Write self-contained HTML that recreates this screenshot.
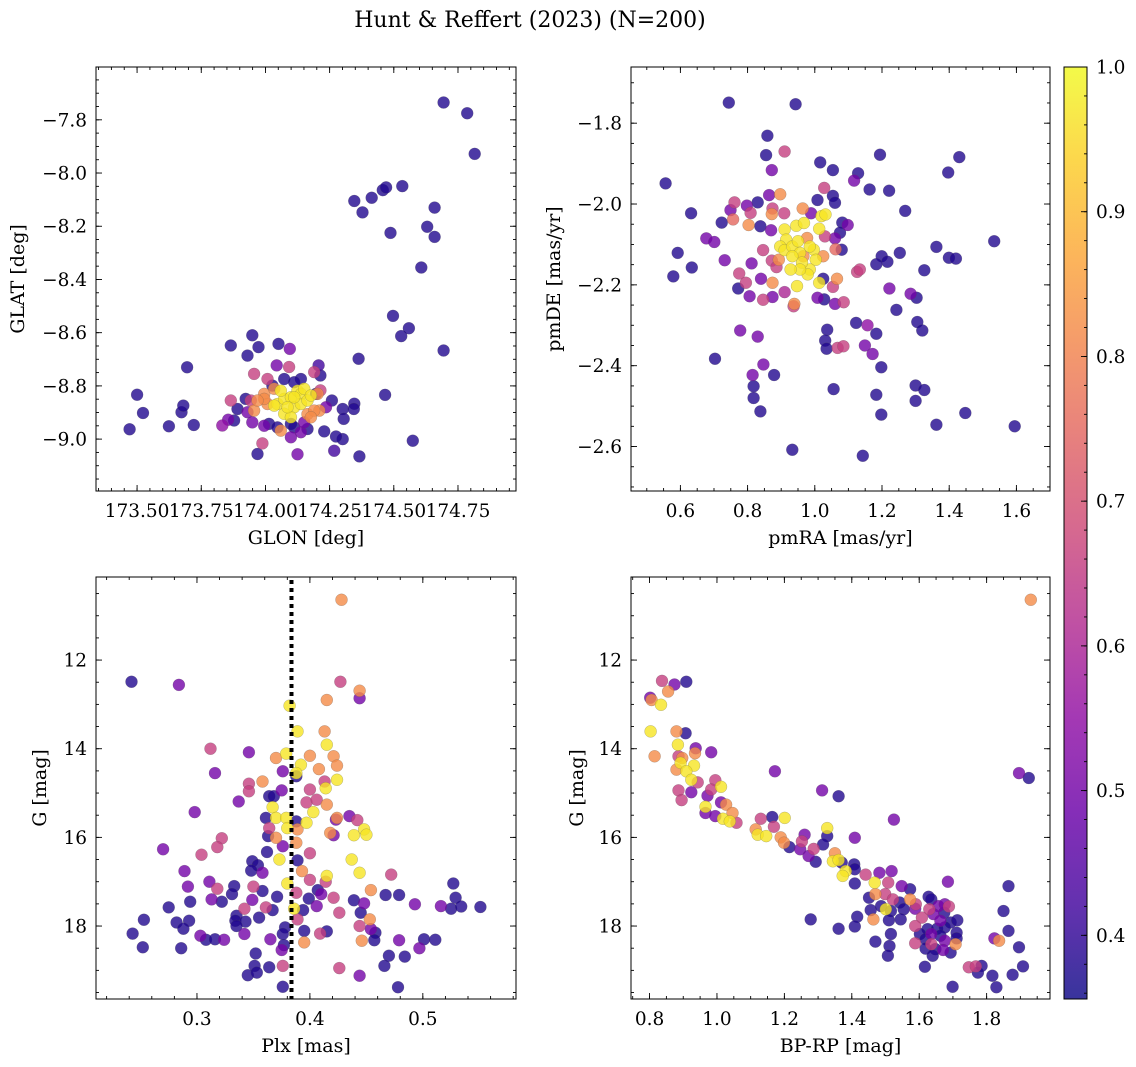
<!DOCTYPE html>
<html><head><meta charset="utf-8"><style>
html,body{margin:0;padding:0;background:#fff;}
svg{display:block;font-family:"DejaVu Serif","Liberation Serif",serif;}
</style></head><body>
<svg id="fig" width="1136" height="1067" viewBox="0 0 1136 1067" xmlns="http://www.w3.org/2000/svg">
<defs><linearGradient id="cbgrad" x1="0" y1="1" x2="0" y2="0"></linearGradient></defs>
<text x="530" y="27" text-anchor="middle" font-size="22">Hunt &amp; Reffert (2023) (N=200)</text>
</svg>
<script>
const D=0.38,P=0.5,K=0.66,O=0.82,Y=0.97;
// Panel 1: GLON / GLAT
const tlGlon=[174.694,174.786,174.815,174.346,174.378,174.414,174.457,174.470,174.533,174.487,174.659,174.630,174.659,174.607,174.497,174.529,174.559,174.694,174.363,174.466,174.574,174.366,
173.471,173.5,173.523,173.624,173.673,173.680,173.695,173.721,173.865,173.949,173.930,173.973,174.051,174.095,173.969,174.125,174.268,174.301,174.275,174.229,174.259,174.301,174.305,174.346,174.344,174.207,174.214,174.236,174.099,174.060,173.988,173.832,173.855,173.878,173.865,173.891,173.956,174.008,174.044,174.092,174.190,174.214,174.210,173.995,173.956,173.943,173.923,173.930,173.949,173.995,174.014,174.099,174.138,174.151,174.164,
174.047,174.073,174.099,174.125,174.138,174.112,174.073,174.099,174.138,174.164,174.151,174.060,174.034,174.086,174.112,174.177,
174.008,173.995,174.034,174.190,174.177,173.969,174.203,
174.073,174.138,174.112,174.027,174.047,174.112,174.164,174.197];
const tlGlat=[-7.735,-7.775,-7.928,-8.105,-8.148,-8.093,-8.064,-8.054,-8.049,-8.225,-8.130,-8.202,-8.240,-8.355,-8.537,-8.613,-8.583,-8.667,-8.698,-8.834,-9.006,-9.065,
-8.963,-8.833,-8.902,-8.952,-8.899,-8.874,-8.730,-8.947,-8.648,-8.610,-8.686,-8.654,-8.642,-8.661,-9.056,-9.057,-9.044,-9.0,-8.99,-8.971,-8.855,-8.887,-8.924,-8.867,-8.887,-8.723,-8.761,-8.880,-8.993,-8.968,-9.016,-8.949,-8.927,-8.93,-8.855,-8.887,-8.755,-8.774,-8.723,-8.729,-8.748,-8.817,-8.893,-8.830,-8.893,-8.855,-8.849,-8.899,-8.937,-8.950,-8.943,-8.943,-8.974,-8.937,-8.906,
-8.868,-8.849,-8.843,-8.818,-8.830,-8.880,-8.905,-8.918,-8.868,-8.855,-8.811,-8.818,-8.874,-8.880,-8.843,-8.836,
-8.868,-8.849,-8.811,-8.893,-8.918,-8.855,-8.830,
-8.774,-8.774,-8.786,-8.799,-8.956,-8.956,-8.962,-8.830];
const tlProb=[D,D,D,D,D,D,D,D,D,D,D,D,D,D,D,D,D,D,D,D,D,D,
D,D,D,D,D,D,D,D,D,D,D,D,D,P,D,P,0.42,D,D,D,D,D,D,D,D,0.42,D,P,P,O,K,0.55,P,D,K,D,K,K,P,K,K,K,O,O,O,K,D,P,P,P,D,D,P,P,O,
Y,Y,Y,Y,Y,Y,Y,Y,Y,Y,Y,Y,Y,Y,Y,Y,
O,O,O,O,O,O,O,
D,D,D,D,D,D,D,D];
// Panel 2: pmRA / pmDE
const trPmra=[0.744,0.943,0.859,0.855,0.910,0.872,1.016,1.054,1.129,1.117,1.194,1.397,1.430,1.163,1.221,1.028,1.008,1.054,1.060,1.269,0.556,0.632,0.592,0.634,0.579,0.723,0.677,0.701,0.732,0.772,0.703,0.778,0.830,0.775,0.795,0.806,0.812,0.840,0.846,0.874,0.847,0.815,0.818,0.818,0.838,0.879,0.933,1.143,1.056,1.183,1.198,1.198,1.183,1.172,1.149,1.157,1.123,1.037,1.031,1.035,1.068,1.085,1.243,1.285,1.303,1.305,1.320,1.222,1.300,1.326,1.300,1.362,1.448,1.595,1.534,1.362,1.399,1.420,1.326,1.253,1.199,1.216,1.183,1.126,1.134,1.082,1.098,1.080,1.075,1.060,1.062,1.066,1.054,1.086,1.060,1.028,1.008,1.025,0.989,0.830,0.798,0.864,0.838,0.870,0.761,0.749,0.757,0.803,0.809,0.874,0.872,0.897,0.909,0.964,0.846,0.872,0.886,0.874,0.937,0.939,0.910,
0.910,0.945,0.915,0.897,0.910,0.933,0.956,0.950,0.968,0.977,0.997,1.003,0.985,0.962,0.979,0.956,0.928,0.893,0.985,1.020,1.032,1.013,1.013,0.947,0.966,1.025,1.030,0.933];
const trPmde=[-1.749,-1.753,-1.831,-1.879,-1.870,-1.916,-1.897,-1.916,-1.924,-1.942,-1.878,-1.922,-1.884,-1.964,-1.967,-1.960,-1.990,-1.980,-1.997,-2.017,-1.949,-2.023,-2.121,-2.157,-2.179,-2.046,-2.085,-2.094,-2.139,-2.209,-2.383,-2.313,-2.328,-2.172,-2.195,-2.228,-2.147,-2.185,-2.237,-2.230,-2.397,-2.423,-2.451,-2.480,-2.513,-2.423,-2.608,-2.623,-2.458,-2.472,-2.521,-2.404,-2.321,-2.371,-2.350,-2.300,-2.294,-2.311,-2.338,-2.358,-2.356,-2.352,-2.262,-2.222,-2.232,-2.292,-2.313,-2.209,-2.449,-2.460,-2.487,-2.546,-2.517,-2.550,-2.092,-2.106,-2.133,-2.135,-2.164,-2.121,-2.129,-2.143,-2.149,-2.168,-2.162,-2.046,-2.052,-2.113,-2.071,-2.085,-2.112,-2.185,-2.205,-2.243,-2.247,-2.236,-2.232,-2.185,-2.023,-1.996,-2.004,-1.978,-2.055,-2.065,-1.996,-2.015,-2.038,-2.052,-2.022,-2.011,-2.025,-1.976,-2.023,-2.011,-2.114,-2.140,-2.156,-2.195,-2.253,-2.247,-2.218,
-2.063,-2.054,-2.088,-2.105,-2.114,-2.105,-2.121,-2.092,-2.047,-2.084,-2.113,-2.138,-2.162,-2.145,-2.174,-2.162,-2.162,-2.138,-2.105,-2.030,-2.026,-2.061,-2.195,-2.203,-2.129,-2.129,-2.080,-2.129];
const trProb=[D,D,D,D,K,P,D,D,D,P,D,D,D,D,D,K,D,D,D,D,D,D,D,D,D,D,P,P,P,D,D,P,P,K,K,P,P,P,K,P,P,P,D,D,D,D,D,D,D,D,D,D,D,P,P,0.55,D,D,D,D,K,K,D,P,D,D,D,P,D,D,D,D,D,D,D,D,D,D,D,D,D,D,D,K,K,D,P,D,D,P,0.75,O,K,K,P,D,P,D,P,D,P,P,D,P,K,P,0.75,O,K,K,O,O,K,O,K,K,K,O,K,O,0.6,
Y,Y,Y,Y,Y,Y,Y,Y,Y,O,Y,Y,Y,Y,Y,Y,Y,O,Y,Y,Y,Y,Y,Y,O,O,K,Y];
// Panel 3: Plx / G
const blPlx=[0.428,0.242,0.284,0.427,0.444,0.444,0.415,0.382,0.389,0.413,0.312,0.346,0.370,0.379,0.400,0.415,0.421,0.392,0.424,0.408,0.316,0.376,0.388,0.388,0.358,0.346,0.424,0.413,0.414,0.346,0.400,0.375,0.337,0.364,0.368,0.397,0.406,0.415,0.298,0.367,0.403,0.361,0.370,0.379,0.388,0.435,0.442,0.424,0.423,0.397,0.380,0.389,0.364,0.363,0.370,0.376,0.418,0.421,0.439,0.448,0.450,0.322,0.318,0.270,0.304,0.362,0.388,0.400,0.373,0.389,0.349,0.354,0.348,0.358,0.437,0.444,0.393,0.415,0.472,0.289,0.292,0.311,0.318,0.380,0.400,0.414,0.333,0.331,0.350,0.358,0.388,0.407,0.410,0.454,0.467,0.479,0.313,0.322,0.294,0.275,0.371,0.349,0.399,0.421,0.439,0.448,0.493,0.516,0.527,0.529,0.525,0.534,0.551,0.342,0.361,0.367,0.386,0.394,0.406,0.426,0.445,0.335,0.334,0.343,0.355,0.389,0.453,0.253,0.282,0.293,0.335,0.288,0.243,0.303,0.308,0.316,0.324,0.342,0.378,0.376,0.395,0.415,0.409,0.444,0.454,0.458,0.457,0.446,0.479,0.501,0.511,0.497,0.252,0.286,0.365,0.375,0.377,0.395,0.352,0.470,0.484,0.351,0.364,0.376,0.426,0.466,0.345,0.353,0.444,0.376,0.478];
const blG=[10.64,12.49,12.56,12.49,12.69,12.86,12.90,13.03,13.61,13.61,14.00,14.08,14.21,14.11,14.16,13.91,14.17,14.36,14.38,14.46,14.55,14.51,14.62,14.55,14.74,14.79,14.70,14.74,14.89,14.96,14.92,14.94,15.19,15.07,15.07,15.21,15.15,15.26,15.43,15.32,15.43,15.56,15.56,15.56,15.64,15.52,15.61,15.56,15.60,15.67,15.79,15.82,15.79,15.97,16.01,16.20,15.90,15.95,15.95,15.82,15.94,16.02,16.22,16.27,16.39,16.33,16.12,16.36,16.50,16.52,16.54,16.63,16.75,16.80,16.50,16.80,16.76,16.87,16.84,16.76,17.11,17.00,17.16,17.04,16.96,17.00,17.10,17.28,17.11,17.21,17.25,17.19,17.28,17.19,17.30,17.30,17.40,17.45,17.45,17.58,17.34,17.41,17.38,17.36,17.42,17.49,17.51,17.55,17.04,17.36,17.61,17.56,17.57,17.61,17.58,17.64,17.61,17.64,17.55,17.70,17.70,17.77,17.88,17.90,17.81,17.85,17.85,17.86,17.92,17.88,18.00,18.06,18.17,18.22,18.31,18.30,18.31,18.18,18.03,18.18,18.11,18.12,18.17,18.00,18.07,18.15,18.32,18.33,18.32,18.30,18.31,18.50,18.48,18.50,18.30,18.54,18.43,18.37,18.62,18.67,18.69,18.90,18.93,18.90,18.95,18.90,19.11,19.05,19.12,19.37,19.38];
const blProb=[O,D,P,K,O,P,O,Y,Y,O,K,P,O,Y,O,Y,O,Y,O,O,P,P,D,Y,O,K,Y,K,Y,K,K,P,P,D,D,K,K,O,P,Y,Y,D,Y,Y,D,P,K,O,P,Y,Y,O,K,D,O,P,O,P,Y,Y,Y,K,K,P,K,D,O,K,Y,D,D,D,D,P,Y,Y,O,Y,K,P,P,P,K,Y,K,K,D,D,K,D,K,D,P,O,D,D,P,D,D,D,D,P,D,K,D,P,P,P,D,D,D,D,D,K,K,D,Y,D,P,K,D,D,D,D,D,K,O,D,D,D,D,D,D,P,D,D,P,P,D,D,D,D,K,K,P,D,D,O,P,D,D,P,D,D,P,P,D,O,D,D,D,D,D,K,K,D,D,D,P,D,D];
// Panel 4: BP-RP / G
const brBprp=[1.931,0.837,0.874,0.909,0.855,0.802,0.806,0.834,0.803,0.880,0.907,0.884,0.937,0.935,0.983,0.815,0.886,0.892,0.897,0.932,0.880,0.909,1.172,1.896,1.925,0.924,0.943,0.995,1.012,0.886,0.924,0.983,1.312,1.361,0.895,0.972,1.012,1.027,0.966,0.966,0.995,1.018,1.046,1.038,1.058,1.130,1.164,1.201,1.525,1.169,1.327,1.115,1.121,1.146,1.189,1.199,1.260,1.327,1.409,1.315,1.252,1.215,1.247,1.287,1.272,1.293,1.350,1.344,1.361,1.370,1.407,1.409,1.382,1.373,1.441,1.482,1.518,1.409,1.468,1.508,1.548,1.573,1.685,1.865,1.451,1.470,1.499,1.522,1.542,1.573,1.590,1.628,1.636,1.657,1.676,1.688,1.456,1.487,1.501,1.516,1.554,1.588,1.630,1.642,1.674,1.850,1.278,1.416,1.464,1.510,1.545,1.608,1.663,1.693,1.713,1.361,1.409,1.588,1.625,1.653,1.676,1.711,1.865,1.516,1.602,1.636,1.663,1.711,1.823,1.837,1.470,1.588,1.619,1.636,1.676,1.708,1.512,1.619,1.648,1.671,1.896,1.693,1.507,1.640,1.617,1.747,1.768,1.785,1.774,1.817,1.877,1.908,1.699,1.829];
const brG=[10.64,12.47,12.55,12.49,12.71,12.85,12.90,13.01,13.61,13.61,13.65,13.91,13.99,14.10,14.08,14.17,14.17,14.32,14.21,14.38,14.47,14.51,14.51,14.55,14.66,14.70,14.76,14.71,14.86,14.94,14.98,14.92,14.94,15.07,15.16,15.06,15.21,15.26,15.31,15.45,15.52,15.58,15.45,15.64,15.67,15.58,15.54,15.56,15.60,15.76,15.79,15.82,15.94,15.97,16.00,16.12,15.94,15.97,16.01,16.16,16.09,16.22,16.27,16.26,16.42,16.55,16.36,16.54,16.51,16.57,16.61,16.72,16.76,16.87,16.84,16.80,16.76,17.04,17.02,17.02,17.10,17.17,17.00,17.10,17.36,17.28,17.28,17.40,17.47,17.40,17.51,17.34,17.40,17.55,17.51,17.56,17.64,17.55,17.62,17.66,17.62,17.61,17.62,17.73,17.70,17.66,17.85,17.79,17.85,17.87,17.85,17.81,17.88,17.92,17.87,18.06,18.01,18.00,18.07,18.06,18.03,18.15,18.11,18.18,18.18,18.18,18.22,18.28,18.28,18.33,18.35,18.39,18.30,18.41,18.33,18.41,18.45,18.51,18.52,18.54,18.48,18.60,18.67,18.67,18.92,18.93,18.91,18.90,19.05,19.12,19.10,18.91,19.37,19.38];
const brProb=[O,K,P,D,O,P,O,Y,Y,O,D,Y,P,O,P,O,K,Y,O,Y,O,Y,P,P,D,Y,K,K,Y,K,P,K,P,D,K,P,P,O,Y,P,P,Y,O,Y,K,K,D,Y,P,K,Y,O,Y,Y,O,O,P,D,P,D,K,D,P,K,P,D,O,Y,Y,D,D,D,Y,Y,K,P,P,D,Y,K,P,D,P,D,D,O,K,K,D,O,K,D,D,P,P,K,D,D,Y,D,D,P,K,P,D,D,D,D,O,D,D,K,P,D,D,D,D,K,D,D,D,D,D,D,D,P,D,D,P,O,D,K,D,K,P,O,D,D,D,P,D,D,D,D,D,K,K,D,D,D,D,D,D,D];
const CMIN=0.356,CMAX=1.0;
const plasma=[[13,8,135],[65,4,157],[106,0,168],[143,13,164],[177,42,144],[204,71,120],[225,100,98],[242,132,75],[252,166,54],[252,206,37],[240,249,33]];
function cmap(v){let t=(v-CMIN)/(CMAX-CMIN);t=Math.max(0,Math.min(1,t))*10;const i=Math.min(9,Math.floor(t)),f=t-i;const a=plasma[i],b=plasma[i+1];return 'rgb('+[0,1,2].map(k=>Math.round(a[k]+(b[k]-a[k])*f)).join(',')+')';}
const NS='http://www.w3.org/2000/svg';
const svg=document.getElementById('fig');
const TFS=18.5, LFS=19;
function el(tag,attrs,parent){const e=document.createElementNS(NS,tag);for(const k in attrs)e.setAttribute(k,attrs[k]);(parent||svg).appendChild(e);return e;}
function ticks(min,max,step){const out=[];const s=Math.ceil(min/step-1e-9),e=Math.floor(max/step+1e-9);for(let i=s;i<=e;i++)out.push(+(i*step).toFixed(6));return out;}
function fmt(v,d){return (v<0?'\u2212':'')+Math.abs(v).toFixed(d);}
function panel(cfg,xs,ys,cs){
  const g=el('g',{});
  
  
  const sx=v=>cfg.x0+(v-cfg.xmin)/(cfg.xmax-cfg.xmin)*cfg.w;
  const sy=cfg.inv?(v=>cfg.y0+(v-cfg.ymin)/(cfg.ymax-cfg.ymin)*cfg.h):(v=>cfg.y0+cfg.h-(v-cfg.ymin)/(cfg.ymax-cfg.ymin)*cfg.h);
  const clipId='clip-'+cfg.name;
  const cp=el('clipPath',{id:clipId},g);el('rect',{x:cfg.x0,y:cfg.y0,width:cfg.w,height:cfg.h},cp);
  const pts=el('g',{'clip-path':'url(#'+clipId+')'},g);
  
  
  const idx=xs.map((_,i)=>i).sort((a,b)=>cs[a]-cs[b]);
  idx.forEach(i=>{
    const c=el('circle',{cx:sx(xs[i]).toFixed(1),cy:sy(ys[i]).toFixed(1),r:6,fill:cmap(cs[i]),'fill-opacity':0.8,stroke:'#555','stroke-opacity':0.5,'stroke-width':0.4},pts);
    
    
  });
  if(cfg.vline!==undefined){
    const l=el('line',{x1:sx(cfg.vline),x2:sx(cfg.vline),y1:cfg.y0+3,y2:cfg.y0+cfg.h,stroke:'#000','stroke-width':4,'stroke-dasharray':'4,4'},g);
    
    
  }
  const fr=el('rect',{x:cfg.x0,y:cfg.y0,width:cfg.w,height:cfg.h,fill:'none',stroke:'#000','stroke-width':1},g);
  
  
  const tg=el('g',{stroke:'#000','stroke-width':0.9},g);
  ticks(cfg.xmin,cfg.xmax,cfg.xmi).forEach(v=>{const x=sx(v);el('line',{x1:x,x2:x,y1:cfg.y0+cfg.h,y2:cfg.y0+cfg.h-3},tg);el('line',{x1:x,x2:x,y1:cfg.y0,y2:cfg.y0+3},tg);});
  ticks(cfg.ymin,cfg.ymax,cfg.ymi).forEach(v=>{const y=sy(v);el('line',{x1:cfg.x0,x2:cfg.x0+3,y1:y,y2:y},tg);el('line',{x1:cfg.x0+cfg.w,x2:cfg.x0+cfg.w-3,y1:y,y2:y},tg);});
  ticks(cfg.xmin,cfg.xmax,cfg.xma).forEach(v=>{const x=sx(v);el('line',{x1:x,x2:x,y1:cfg.y0+cfg.h,y2:cfg.y0+cfg.h-6},tg);el('line',{x1:x,x2:x,y1:cfg.y0,y2:cfg.y0+6},tg);
    const t=el('text',{x:x,y:cfg.y0+cfg.h+26,'text-anchor':'middle','font-size':TFS},g);t.textContent=fmt(v,cfg.xd);
    
    });
  ticks(cfg.ymin,cfg.ymax,cfg.yma).forEach(v=>{const y=sy(v);el('line',{x1:cfg.x0,x2:cfg.x0+6,y1:y,y2:y},tg);el('line',{x1:cfg.x0+cfg.w,x2:cfg.x0+cfg.w-6,y1:y,y2:y},tg);
    const t=el('text',{x:cfg.x0-9,y:y+6.5,'text-anchor':'end','font-size':TFS},g);t.textContent=fmt(v,cfg.yd);
    
    });
  const xl=el('text',{x:cfg.x0+cfg.w/2,y:cfg.y0+cfg.h+53,'text-anchor':'middle','font-size':LFS},g);xl.textContent=cfg.xlabel;
  
  
  const yl=el('text',{x:0,y:0,'text-anchor':'middle','font-size':LFS,transform:'translate('+cfg.ylx+','+(cfg.y0+cfg.h/2)+') rotate(-90)'},g);yl.textContent=cfg.ylabel;
  
  
}
panel({name:'glon-glat-panel',x0:96,y0:67,w:420,h:424,xmin:173.34,xmax:174.976,ymin:-9.195,ymax:-7.6015,xma:0.25,xmi:0.05,yma:0.2,ymi:0.05,xd:2,yd:1,xlabel:'GLON [deg]',ylabel:'GLAT [deg]',ylx:24},tlGlon,tlGlat,tlProb);
panel({name:'pm-panel',x0:631,y0:67,w:419,h:424,xmin:0.453,xmax:1.700,ymin:-2.710,ymax:-1.661,xma:0.2,xmi:0.05,yma:0.2,ymi:0.05,xd:1,yd:1,xlabel:'pmRA [mas/yr]',ylabel:'pmDE [mas/yr]',ylx:560},trPmra,trPmde,trProb);
panel({name:'plx-g-panel',x0:96,y0:577,w:420,h:422,xmin:0.2106,xmax:0.5825,ymin:10.126,ymax:19.646,inv:true,xma:0.1,xmi:0.02,yma:2,ymi:0.5,xd:1,yd:0,xlabel:'Plx [mas]',ylabel:'G [mag]',ylx:46,vline:0.3837},blPlx,blG,blProb);
panel({name:'cmd-panel',x0:631,y0:577,w:419,h:422,xmin:0.745,xmax:1.988,ymin:10.126,ymax:19.646,inv:true,xma:0.2,xmi:0.05,yma:2,ymi:0.5,xd:1,yd:0,xlabel:'BP-RP [mag]',ylabel:'G [mag]',ylx:583},brBprp,brG,brProb);
// colorbar
const grad=document.getElementById('cbgrad');
for(let i=0;i<=20;i++){const v=CMIN+(CMAX-CMIN)*i/20;el('stop',{offset:(i/20),'stop-color':cmap(v),'stop-opacity':0.82},grad);}
const cb=el('g',{});


const CB={x:1064,y:67,w:23,h:932};
el('rect',{x:CB.x,y:CB.y,width:CB.w,height:CB.h,fill:'url(#cbgrad)',stroke:'#000','stroke-width':1},cb);
const cy=v=>CB.y+CB.h-(v-CMIN)/(CMAX-CMIN)*CB.h;
ticks(CMIN,CMAX,0.02).forEach(v=>{el('line',{x1:CB.x+CB.w,x2:CB.x+CB.w-3,y1:cy(v),y2:cy(v),stroke:'#000','stroke-width':0.9},cb);});
ticks(CMIN,CMAX,0.1).forEach(v=>{el('line',{x1:CB.x+CB.w,x2:CB.x+CB.w-6,y1:cy(v),y2:cy(v),stroke:'#000','stroke-width':0.9},cb);
  const t=el('text',{x:CB.x+CB.w+9,y:cy(v)+6.5,'font-size':TFS},cb);t.textContent=v.toFixed(1);
  
  });
</script>
</body></html>
